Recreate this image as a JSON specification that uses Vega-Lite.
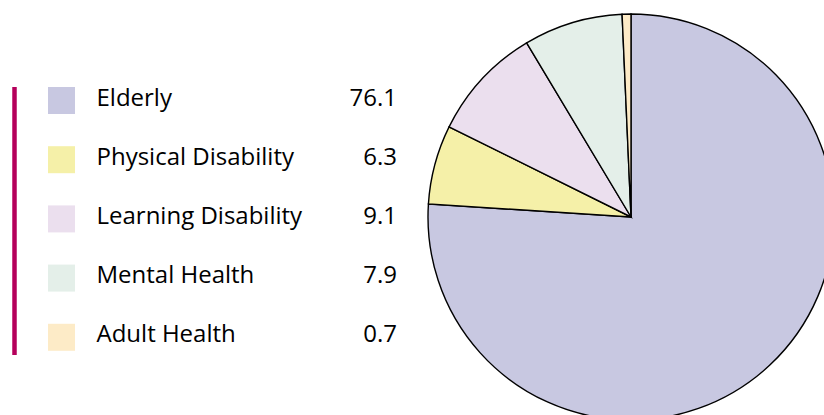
{
  "$schema": "https://vega.github.io/schema/vega-lite/v6.json",
  "width": 824,
  "height": 415,
  "autosize": {"type": "none"},
  "padding": 0,
  "config": {"view": {"stroke": null}, "font": "Open Sans"},
  "data": {
    "values": [
      {"category": "Elderly", "value": 76.1, "label": "76.1", "rank": 1},
      {"category": "Physical Disability", "value": 6.3, "label": "6.3", "rank": 2},
      {"category": "Learning Disability", "value": 9.1, "label": "9.1", "rank": 3},
      {"category": "Mental Health", "value": 7.9, "label": "7.9", "rank": 4},
      {"category": "Adult Health", "value": 0.7, "label": "0.7", "rank": 5}
    ]
  },
  "layer": [
    {
      "mark": {"type": "arc", "radius": 203, "stroke": "#000000", "strokeWidth": 1.4},
      "encoding": {
        "x": {"datum": 631, "type": "quantitative", "scale": {"domain": [0, 824], "nice": false, "zero": false}, "axis": null},
        "y": {"datum": 2.968, "type": "quantitative", "scale": {"domain": [-0.698, 6.313], "nice": false, "zero": false, "reverse": true}, "axis": null},
        "theta": {"field": "value", "type": "quantitative", "stack": true},
        "order": {"field": "rank", "type": "quantitative", "sort": "ascending"},
        "color": {
          "field": "category", "type": "nominal", "legend": null,
          "scale": {
            "domain": ["Elderly", "Physical Disability", "Learning Disability", "Mental Health", "Adult Health"],
            "range": ["#c8c8e1", "#f5f0a8", "#ebdfee", "#e4efe9", "#fdebc7"]
          }
        }
      }
    },
    {
      "data": {"values": [{}]},
      "mark": {"type": "rule", "color": "#b5005b", "strokeWidth": 4.5},
      "encoding": {
        "x": {"datum": 14.5, "type": "quantitative", "scale": {"domain": [0, 824], "nice": false, "zero": false}, "axis": null},
        "y": {"datum": 0.772, "type": "quantitative", "scale": {"domain": [-0.698, 6.313], "nice": false, "zero": false, "reverse": true}, "axis": null},
        "y2": {"datum": 5.299}
      }
    },
    {
      "mark": {"type": "square", "size": 729, "opacity": 1, "filled": true},
      "encoding": {
        "x": {"datum": 61.5, "type": "quantitative", "scale": {"domain": [0, 824], "nice": false, "zero": false}, "axis": null},
        "y": {"field": "rank", "type": "quantitative", "scale": {"domain": [-0.698, 6.313], "nice": false, "zero": false, "reverse": true}, "axis": null},
        "color": {"field": "category", "type": "nominal", "legend": null}
      }
    },
    {
      "mark": {"type": "text", "align": "left", "baseline": "alphabetic", "dy": 5, "fontSize": 24, "color": "#000000"},
      "encoding": {
        "x": {"datum": 96.5, "type": "quantitative", "scale": {"domain": [0, 824], "nice": false, "zero": false}, "axis": null},
        "y": {"field": "rank", "type": "quantitative", "scale": {"domain": [-0.698, 6.313], "nice": false, "zero": false, "reverse": true}, "axis": null},
        "text": {"field": "category"}
      }
    },
    {
      "mark": {"type": "text", "align": "right", "baseline": "alphabetic", "dy": 5, "fontSize": 24, "color": "#000000"},
      "encoding": {
        "x": {"datum": 397, "type": "quantitative", "scale": {"domain": [0, 824], "nice": false, "zero": false}, "axis": null},
        "y": {"field": "rank", "type": "quantitative", "scale": {"domain": [-0.698, 6.313], "nice": false, "zero": false, "reverse": true}, "axis": null},
        "text": {"field": "label"}
      }
    }
  ]
}
